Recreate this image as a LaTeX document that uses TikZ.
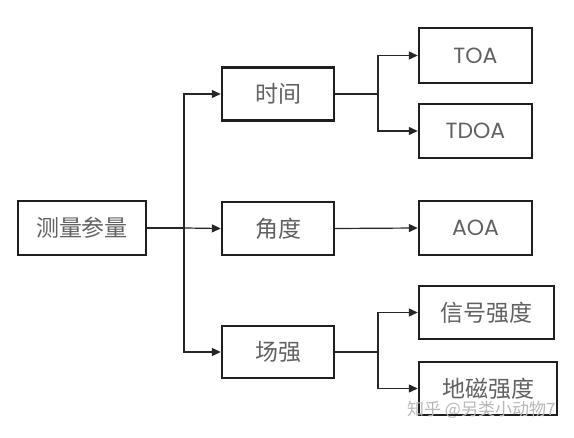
\documentclass[tikz,border=0pt]{standalone}
\usepackage{fontspec}
\setmainfont{Poppins}
\newfontfamily\cjk{Noto Sans CJK SC}
\usetikzlibrary{arrows.meta}
\begin{document}
\begin{tikzpicture}[x=1pt,y=-1pt,
  bx/.style={draw=black!88,line width=2.4pt,fill=white,inner sep=0pt,text=black!62},
  cn/.style={font=\cjk\fontsize{23}{25}\selectfont},
  lt/.style={font=\fontsize{22}{24}\selectfont},
  con/.style={draw=black!85,line width=1.2pt},
  arr/.style={con,-{Triangle[length=9pt,width=8pt]}}]
\useasboundingbox (0,0) rectangle (574,438);
\node[bx,cn,minimum width=128pt,minimum height=54pt] (root) at (82,228) {测量参量};
\node[bx,cn,minimum width=112pt,minimum height=53pt] (time) at (278,94) {时间};
\node[bx,cn,minimum width=112pt,minimum height=53pt] (angle) at (278,228.5) {角度};
\node[bx,cn,minimum width=112pt,minimum height=52pt] (field) at (278,352) {场强};
\node[bx,lt,minimum width=113pt,minimum height=55pt] (toa) at (475.5,55.5) {TOA};
\node[bx,lt,minimum width=113pt,minimum height=54pt] (tdoa) at (475.5,131) {TDOA};
\node[bx,lt,minimum width=113pt,minimum height=54pt] (aoa) at (475.5,228) {AOA};
\node[bx,cn,minimum width=135pt,minimum height=53pt] (sig) at (486.5,312.5) {信号强度};
\node[bx,cn,minimum width=138pt,minimum height=53pt] (geo) at (488,388.5) {地磁强度};
\coordinate (j1) at (184,228);
\coordinate (j2) at (378,94);
\coordinate (j3) at (378,352);
\draw[con] (root.east) -- (j1);
\draw[arr] (j1) |- (time.west);
\draw[arr] (j1) -- (angle.west);
\draw[arr] (j1) |- (field.west);
\draw[con] (time.east) -- (j2);
\draw[arr] (j2) |- (toa.west);
\draw[arr] (j2) |- (tdoa.west);
\draw[arr] (angle.east) -- (aoa.west);
\draw[con] (field.east) -- (j3);
\draw[arr] (j3) |- (sig.west);
\draw[arr] (j3) |- (geo.west);
\node[text=black!28,font=\cjk\fontsize{17}{19}\selectfont,anchor=west,inner sep=0pt] (wm) at (407,410) {知乎 @另类小动物7};
\end{tikzpicture}
\end{document}
